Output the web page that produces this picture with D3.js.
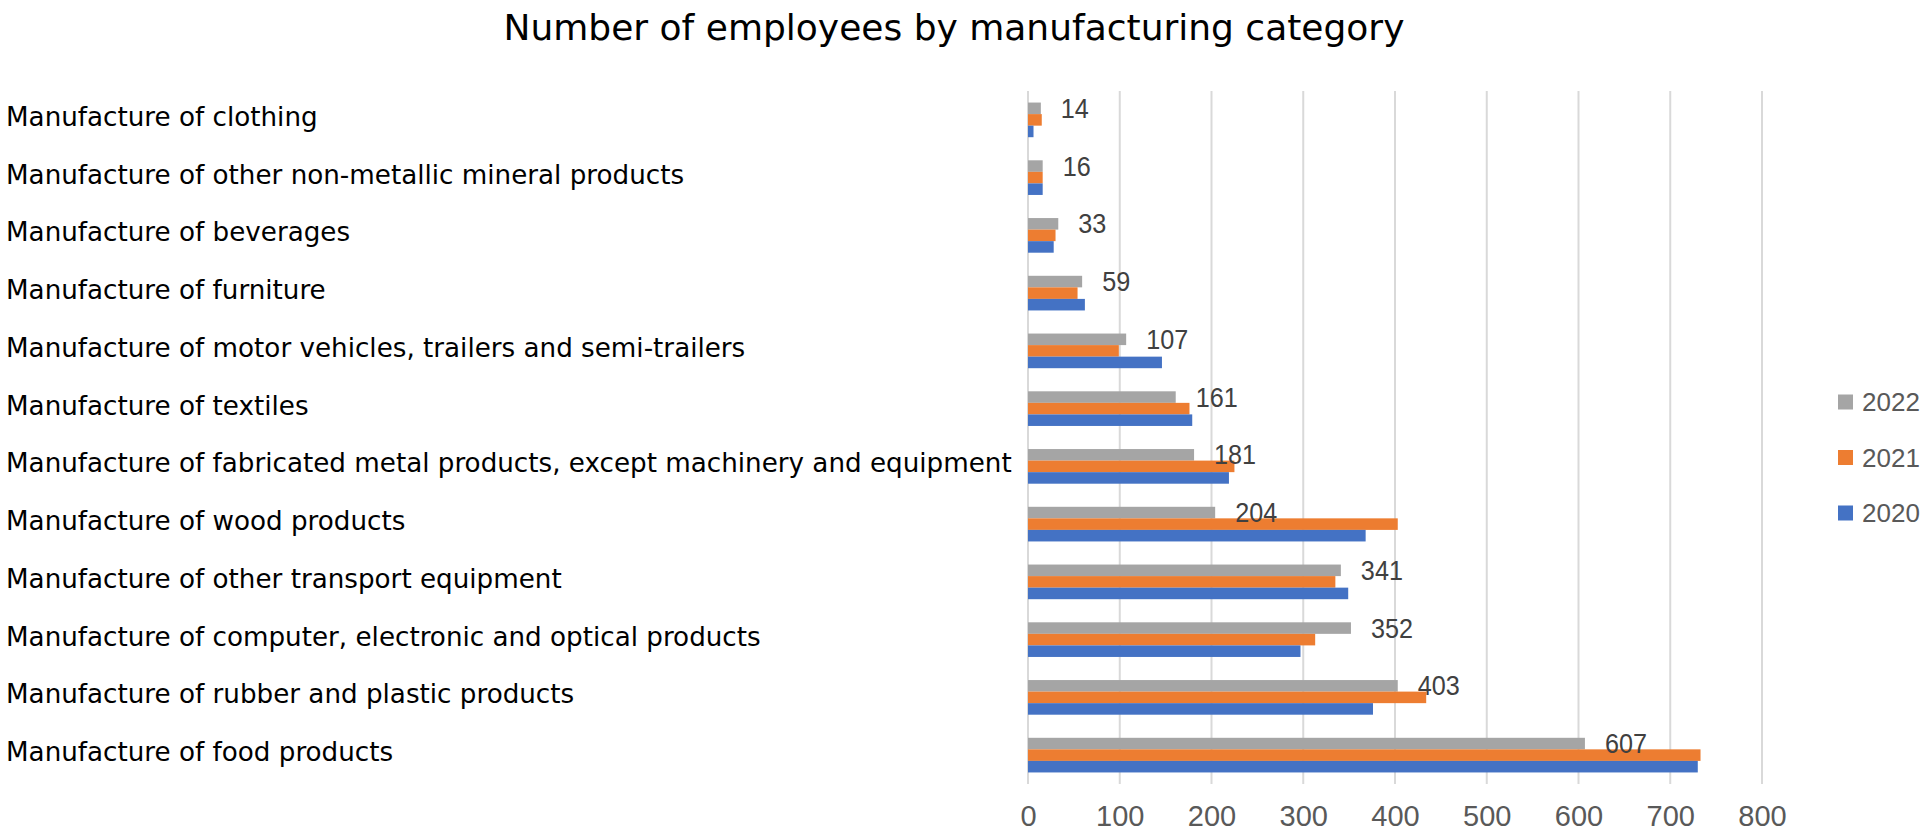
<!DOCTYPE html>
<html>
<head>
<meta charset="utf-8">
<script src="https://cdn.jsdelivr.net/npm/d3@7/dist/d3.min.js"></script>
<style>
  html, body { margin: 0; padding: 0; background: #ffffff; overflow: hidden; }
  svg { display: block; }
</style>
</head>
<body>
<svg id="chart" width="1920" height="840"></svg>
<script>
const title = "Number of employees by manufacturing category";
const categories = [
  "Manufacture of clothing",
  "Manufacture of other non-metallic mineral products",
  "Manufacture of beverages",
  "Manufacture of furniture",
  "Manufacture of motor vehicles, trailers and semi-trailers",
  "Manufacture of textiles",
  "Manufacture of fabricated metal products, except machinery and equipment",
  "Manufacture of wood products",
  "Manufacture of other transport equipment",
  "Manufacture of computer, electronic and optical products",
  "Manufacture of rubber and plastic products",
  "Manufacture of food products"
];
const seriesNames = ["2022", "2021", "2020"];
const values2022 = [14, 16, 33, 59, 107, 161, 181, 204, 341, 352, 403, 607];
const values2021 = [15, 16, 30, 54, 99, 176, 225, 403, 335, 313, 434, 733];
const values2020 = [6, 16, 28, 62, 146, 179, 219, 368, 349, 297, 376, 730];
const tickValues = [0, 100, 200, 300, 400, 500, 600, 700, 800];

const seriesValues = { "2022": values2022, "2021": values2021, "2020": values2020 };
const colors = { "2022": "#A5A5A5", "2021": "#ED7D31", "2020": "#4472C4" };

const svg = d3.select("#chart");

const x = d3.scaleLinear().domain([0, 800]).range([1028, 1762]);
const y = d3.scaleBand().domain(categories).range([91, 784]).paddingInner(0.4).paddingOuter(0.2);
const ySub = d3.scaleBand().domain(seriesNames).range([0, y.bandwidth()]);

// Title
svg.append("text")
  .attr("x", 954).attr("y", 40)
  .attr("text-anchor", "middle")
  .attr("font-family", "DejaVu Sans, Verdana, sans-serif")
  .attr("font-size", 36)
  .attr("fill", "#000000")
  .text(title);

// Gridlines
const grid = svg.append("g");
grid.selectAll("line").data(tickValues).join("line")
  .attr("x1", d => x(d)).attr("x2", d => x(d))
  .attr("y1", 91).attr("y2", 784)
  .attr("stroke", "#D9D9D9").attr("stroke-width", 2);

// X axis tick labels
const xAxis = d3.axisBottom(x).tickValues(tickValues).tickSize(0).tickPadding(0);
const axG = svg.append("g").attr("transform", "translate(0,805)").call(xAxis);
axG.select(".domain").remove();
axG.selectAll("text")
  .attr("font-family", "Liberation Sans, Arial, sans-serif")
  .attr("font-size", 29)
  .attr("fill", "#595959")
  .attr("dy", "0.71em");

// Category labels
svg.append("g").selectAll("text").data(categories).join("text")
  .attr("x", 6)
  .attr("y", d => y(d) + y.bandwidth() / 2 + 6)
  .attr("font-family", "DejaVu Sans, Verdana, sans-serif")
  .attr("font-size", 26.2)
  .attr("fill", "#000000")
  .text(d => d);

// Bars
const groups = svg.append("g").selectAll("g").data(categories).join("g")
  .attr("transform", d => `translate(0,${y(d)})`);
groups.selectAll("rect")
  .data((d, i) => seriesNames.map(s => ({ s, v: seriesValues[s][i] })))
  .join("rect")
  .attr("x", x(0))
  .attr("y", d => ySub(d.s))
  .attr("width", d => x(d.v) - x(0))
  .attr("height", ySub.bandwidth())
  .attr("fill", d => colors[d.s]);

// Data labels (2022 series)
svg.append("g").selectAll("text").data(categories).join("text")
  .attr("transform", (d, i) => `translate(${x(values2022[i]) + 20},${y(d) + ySub("2022") + ySub.bandwidth() / 2 + 9.5}) scale(0.9,1)`)
  .attr("font-family", "Liberation Sans, Arial, sans-serif")
  .attr("font-size", 28)
  .attr("fill", "#404040")
  .text((d, i) => values2022[i]);

// Legend
const legend = svg.append("g").selectAll("g").data(seriesNames).join("g")
  .attr("transform", (d, i) => `translate(1838,${402 + i * 55.5})`);
legend.append("rect")
  .attr("x", 0).attr("y", -7.5).attr("width", 15).attr("height", 15)
  .attr("fill", d => colors[d]);
legend.append("text")
  .attr("x", 24).attr("y", 9)
  .attr("font-family", "Liberation Sans, Arial, sans-serif")
  .attr("font-size", 26)
  .attr("fill", "#595959")
  .text(d => d);
</script>
</body>
</html>
